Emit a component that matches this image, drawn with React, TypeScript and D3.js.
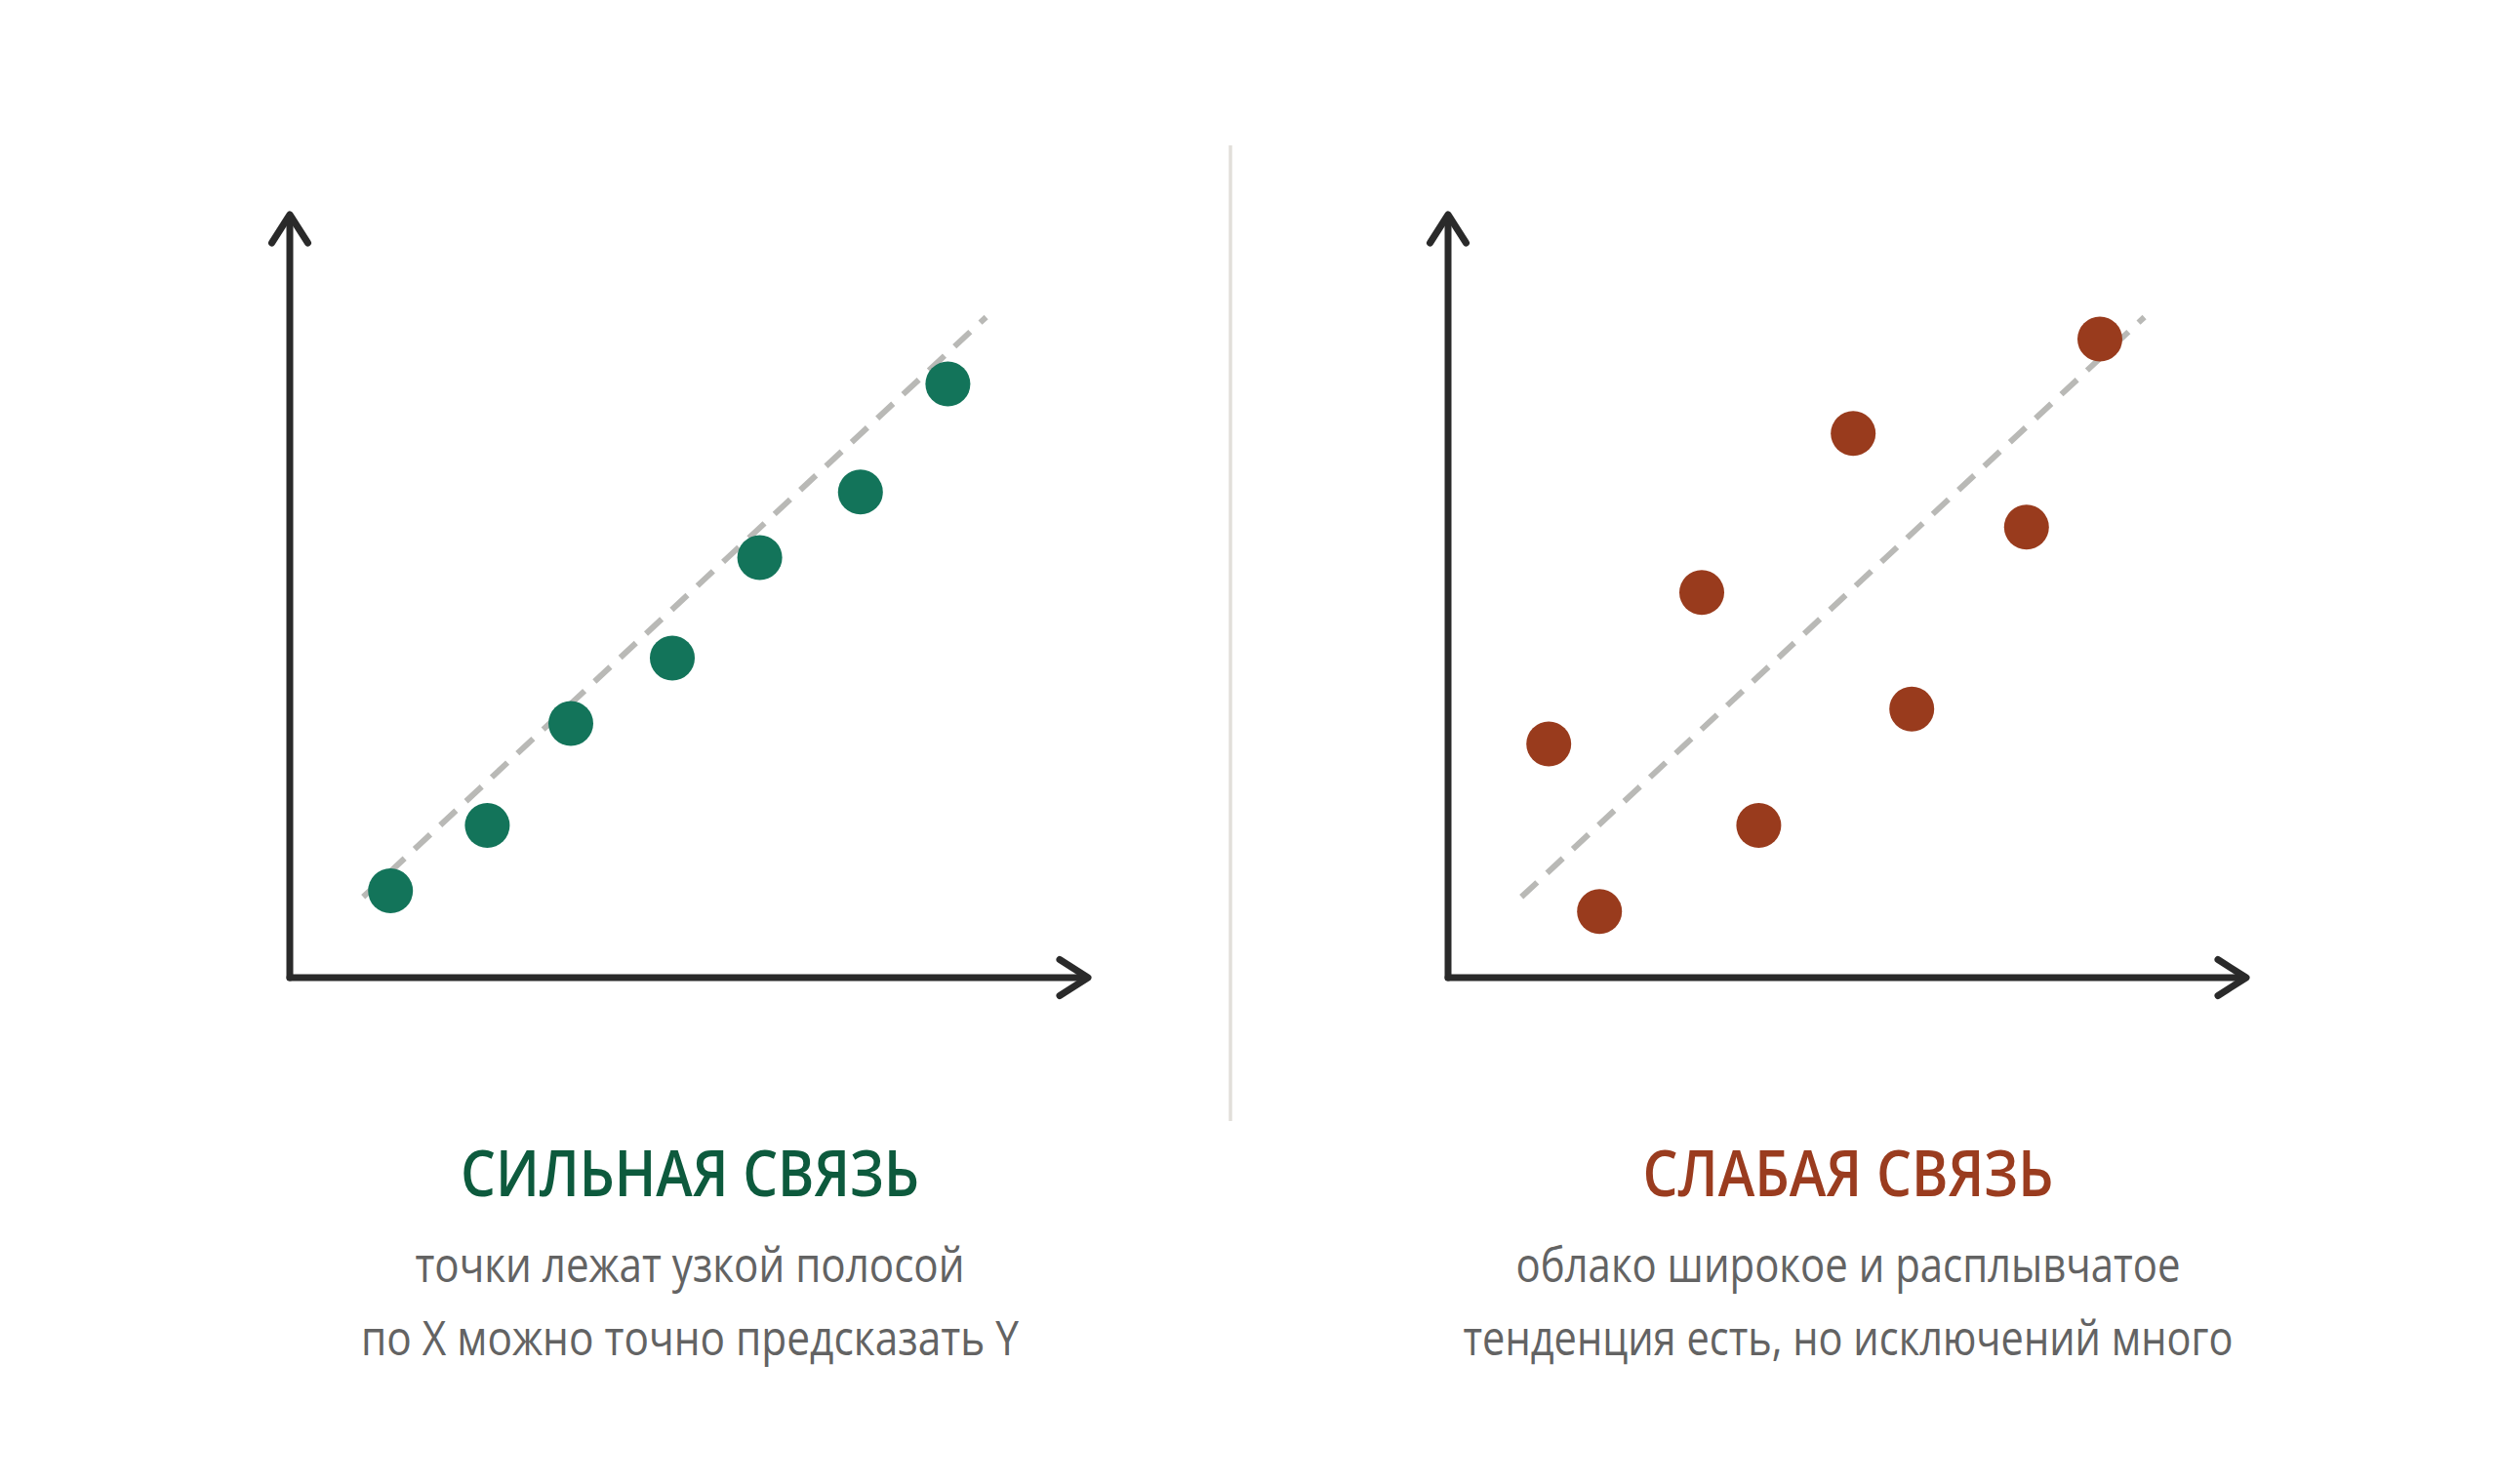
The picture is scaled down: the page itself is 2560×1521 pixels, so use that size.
import React from "react";
import * as d3 from "d3";

// ---- data ----
const strongX = [12.9, 25.3, 36.0, 49.0, 60.2, 73.1, 84.3];
const strongY = [11.4, 20.0, 33.4, 42.0, 55.2, 63.8, 78.0];

const weakX = [12.9, 19.4, 32.5, 39.8, 51.9, 59.4, 74.1, 83.5];
const weakY = [30.7, 8.7, 50.6, 20.0, 71.5, 35.3, 59.2, 83.9];

const trendX = [9.4, 89.2];
const trendY = [10.6, 86.8];

const titles = ["СИЛЬНАЯ СВЯЗЬ", "СЛАБАЯ СВЯЗЬ"];
const subtitles = [
  ["точки лежат узкой полосой", "по X можно точно предсказать Y"],
  ["облако широкое и расплывчатое", "тенденция есть, но исключений много"],
];

// ---- layout ----
const W = 2560;
const H = 1521;
const PANEL_X = [297, 1484];
const ORIGIN_Y = 1002;
const AXIS_TOP = 220;
const AXIS_RIGHT = 818; // relative to panel origin
const DOT_R = 23;
const FONT = "'Open Sans', 'Noto Sans', sans-serif";

const colors = {
  strongDot: "#13745a",
  strongTitle: "#0d5a3d",
  weakDot: "#993b1d",
  weakTitle: "#9a3c1f",
  axis: "#2a2a2a",
  trend: "#b9b9b6",
  sub: "#636363",
  divider: "#e2dfda",
};

const titleWidths = [470, 421];
const subWidths = [
  [563, 674],
  [681, 789],
];

const xScale = d3.scaleLinear().domain([0, 100]).range([0, 800]);
const yScale = d3.scaleLinear().domain([0, 100]).range([0, -780]);

function Panel({
  px,
  xs,
  ys,
  dot,
  title,
  titleColor,
  subs,
  tw,
  sw,
}: {
  px: number;
  xs: number[];
  ys: number[];
  dot: string;
  title: string;
  titleColor: string;
  subs: string[];
  tw: number;
  sw: number[];
}) {
  const line = d3
    .line<number>()
    .x((_, i) => xScale(trendX[i]))
    .y((_, i) => yScale(trendY[i]));
  const top = AXIS_TOP - ORIGIN_Y;
  const cx = AXIS_RIGHT / 2 + 1;
  return (
    <g transform={`translate(${px},${ORIGIN_Y})`}>
      <path
        d={line(trendX) || ""}
        stroke={colors.trend}
        strokeWidth={6}
        strokeDasharray="22 14"
        fill="none"
      />
      {xs.map((x, i) => (
        <circle key={i} cx={xScale(x)} cy={yScale(ys[i])} r={DOT_R} fill={dot} />
      ))}
      <g
        stroke={colors.axis}
        strokeWidth={7}
        fill="none"
        strokeLinecap="round"
        strokeLinejoin="round"
      >
        <line x1={0} y1={0} x2={0} y2={top + 2} />
        <line x1={0} y1={0} x2={AXIS_RIGHT - 2} y2={0} />
        <polyline points={`-18.5,${top + 29} 0,${top} 18.5,${top + 29}`} />
        <polyline
          points={`${AXIS_RIGHT - 29},-18.5 ${AXIS_RIGHT},0 ${AXIS_RIGHT - 29},18.5`}
        />
      </g>
      <text
        x={cx}
        y={1226 - ORIGIN_Y}
        textAnchor="middle"
        fontFamily={FONT}
        fontWeight={600}
        fontSize={65}
        fill={titleColor}
        textLength={tw}
        lengthAdjust="spacingAndGlyphs"
      >
        {title}
      </text>
      {subs.map((s, i) => (
        <text
          key={i}
          x={cx}
          y={1314 - ORIGIN_Y + i * 75}
          textAnchor="middle"
          fontFamily={FONT}
          fontWeight={400}
          fontSize={49}
          fill={colors.sub}
          textLength={sw[i]}
          lengthAdjust="spacingAndGlyphs"
        >
          {s}
        </text>
      ))}
    </g>
  );
}

export default function App() {
  return (
    <svg
      width={W}
      height={H}
      viewBox={`0 0 ${W} ${H}`}
      style={{ position: "absolute", left: 0, top: 0, display: "block", background: "#fff" }}
    >
      <rect x={0} y={0} width={W} height={H} fill="#fff" />
      <line
        x1={1261}
        y1={149}
        x2={1261}
        y2={1149}
        stroke={colors.divider}
        strokeWidth={3.5}
      />
      <Panel
        px={PANEL_X[0]}
        xs={strongX}
        ys={strongY}
        dot={colors.strongDot}
        title={titles[0]}
        titleColor={colors.strongTitle}
        subs={subtitles[0]}
        tw={titleWidths[0]}
        sw={subWidths[0]}
      />
      <Panel
        px={PANEL_X[1]}
        xs={weakX}
        ys={weakY}
        dot={colors.weakDot}
        title={titles[1]}
        titleColor={colors.weakTitle}
        subs={subtitles[1]}
        tw={titleWidths[1]}
        sw={subWidths[1]}
      />
    </svg>
  );
}
